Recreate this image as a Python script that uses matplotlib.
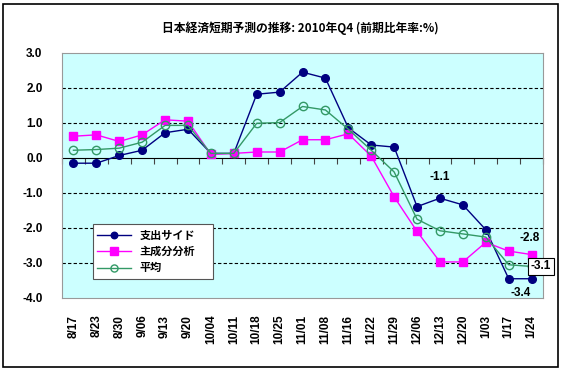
import numpy as np
import matplotlib
matplotlib.use('Agg')
from matplotlib import pyplot as plt
from matplotlib.patches import Rectangle

plt.rcParams['font.family'] = ['Noto Sans CJK JP', 'DejaVu Sans']

dates = ['8/17', '8/23', '8/30', '9/06', '9/13', '9/20', '10/04', '10/11', '10/18', '10/25',
         '11/01', '11/08', '11/16', '11/22', '11/29', '12/06', '12/13', '12/20', '1/03', '1/17', '1/24']
spending = [-0.15, -0.15, 0.07, 0.22, 0.72, 0.82, 0.13, 0.13, 1.82, 1.88,
            2.45, 2.28, 0.86, 0.37, 0.31, -1.39, -1.15, -1.34, -2.05, -3.45, -3.45]
pca = [0.62, 0.66, 0.47, 0.66, 1.09, 1.05, 0.1, 0.13, 0.17, 0.17,
       0.52, 0.52, 0.69, 0.05, -1.11, -2.1, -2.97, -2.97, -2.41, -2.66, -2.76]
average = [0.22, 0.24, 0.28, 0.45, 0.93, 0.93, 0.13, 0.13, 0.99, 1.01,
           1.47, 1.37, 0.82, 0.22, -0.4, -1.75, -2.08, -2.17, -2.26, -3.05, -3.1]
series_names = ['支出サイド', '主成分分析', '平均']

num_font = dict(family='Liberation Sans', fontweight='bold', fontsize=8.5)

fig = plt.figure(figsize=(5.61, 3.70), dpi=100)
ax = fig.add_axes([0.1105, 0.1946, 0.8575, 0.6624])
ax.set_facecolor('#CCFFFF')

x = np.arange(len(dates))
ax.plot(x, spending, color='#000080', lw=1, marker='o', ms=5.5, label=series_names[0])
ax.plot(x, pca, color='#FF00FF', lw=1, marker='s', ms=6, label=series_names[1])
ax.plot(x, average, color='#339966', lw=1, marker='o', ms=6, mfc='none', mew=1,
        label=series_names[2])

ax.set_xlim(-0.5, len(dates) - 0.5)
ax.set_ylim(-4, 3)
ax.set_yticks(np.arange(-4, 3.1, 1))
ax.set_yticklabels([f'{v:.1f}' for v in np.arange(-4, 3.1, 1)], **num_font)
ax.tick_params(axis='y', length=0, pad=14)
for g in [-3, -2, -1, 1, 2]:
    ax.axhline(g, color='black', lw=0.8, ls=(0, (3, 2)), zorder=0.5)

ax.set_xticks(x)
ax.set_xticklabels(dates, rotation=90, **num_font)
ax.tick_params(axis='x', length=0, pad=12)

# zero line with tick marks between categories
sec = ax.secondary_xaxis(4 / 7)
sec.set_xticks(np.arange(-0.5, len(dates), 1))
sec.set_xticklabels([])
sec.tick_params(direction='in', length=4, color='#444444')
sec.spines['bottom'].set_color('#444444')

for s in ax.spines.values():
    s.set_color('#999999')

# value labels
ax.text(16, -0.55, '-1.1', ha='center', va='center', **num_font)
ax.text(19.9, -2.3, '-2.8', ha='center', va='center', **num_font)
ax.text(20.4, -3.1, '-3.1', ha='center', va='center',
        bbox=dict(boxstyle='square,pad=0.25', fc='white', ec='black', lw=0.8), **num_font)
ax.text(19.5, -3.85, '-3.4', ha='center', va='center', **num_font)

leg = ax.legend(loc='lower left', bbox_to_anchor=(0.064, 0.078, 0.25, 0.24), mode='expand',
                prop=dict(family=['Noto Sans CJK JP'], weight='bold', size=8),
                fancybox=False, edgecolor='#555555', framealpha=1, borderaxespad=0,
                handlelength=3, labelspacing=0.3, markerscale=0.85)
leg.get_frame().set_linewidth(0.8)

fig.text(0.535, 0.925, '日本経済短期予測の推移: 2010年Q4 (前期比年率:%)', ha='center', va='center',
         fontsize=8.5, fontweight='bold')

fig.add_artist(Rectangle((0.006, 0.008), 0.988, 0.982, transform=fig.transFigure,
                         fill=False, ec='black', lw=1.2))

fig.savefig('out.png', dpi=100)
